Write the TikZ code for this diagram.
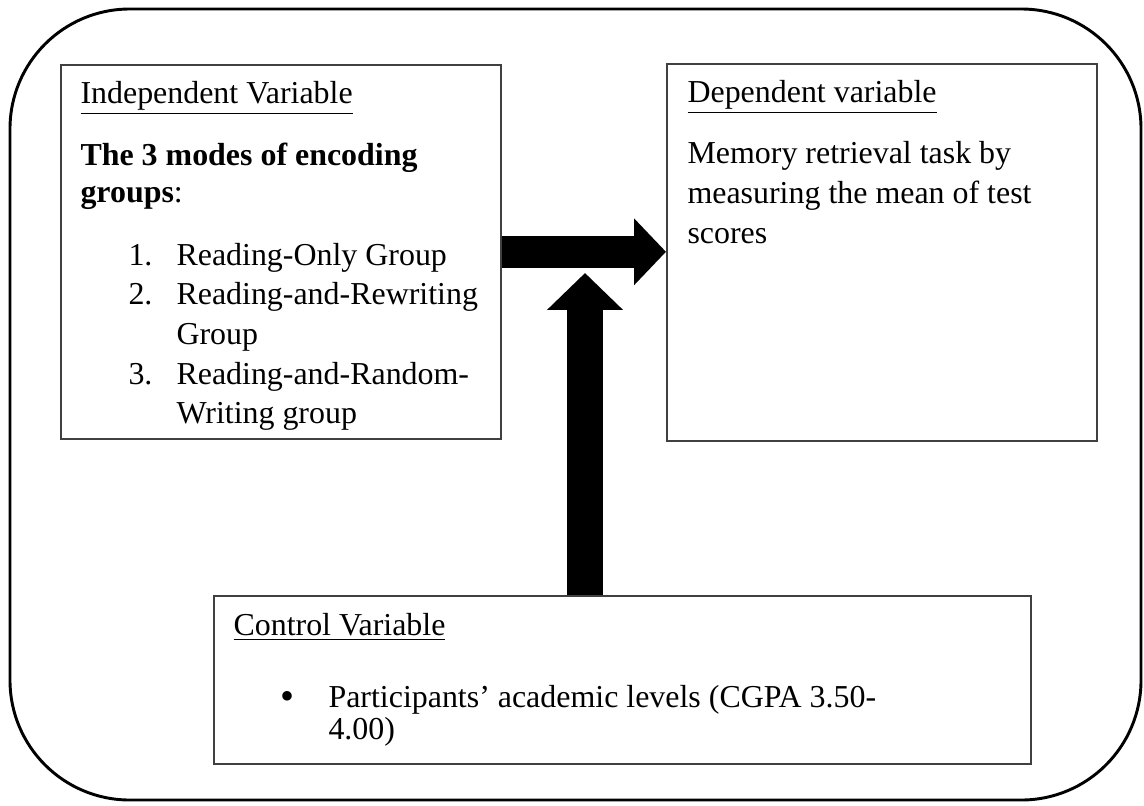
\documentclass[tikz,border=0pt]{standalone}
\usepackage{fontspec}
\setmainfont{Liberation Serif}
\usetikzlibrary{arrows.meta}
\begin{document}
\begin{tikzpicture}[x=0.3759pt,y=-0.3759pt,
  frame/.style={draw=black, line width=1.1pt, rounded corners=45pt},
  varbox/.style={draw=black!75, line width=0.6pt, anchor=north west, inner sep=0pt},
  txt/.style={anchor=base west, inner sep=0pt, font=\fontsize{12pt}{14pt}\selectfont},
  fatH/.style={line width=12pt, -{Triangle[length=12pt,width=24.4pt]}},
  fatV/.style={line width=13.5pt, -{Triangle[length=13.9pt,width=27.8pt]}}]
\useasboundingbox (0,0) rectangle (1144,805);
\draw[frame] (10,9) rectangle (1141,800);
% boxes
\node[varbox, minimum width=440*0.3759pt, minimum height=374*0.3759pt] (iv) at (60,64) {};
\node[varbox, minimum width=430*0.3759pt, minimum height=377*0.3759pt] (dv) at (666,63) {};
\node[varbox, minimum width=817*0.3759pt, minimum height=168*0.3759pt] (ctrl) at (213,595) {};
% independent variable text
\node[txt] (ivt) at (80,103) {\underline{Independent Variable}};
\node[txt] (ivb1) at (80,165) {\textbf{The 3 modes of encoding}};
\node[txt] (ivb2) at (80,202) {\textbf{groups}:};
\node[txt] (n1) at (128,265) {1.};
\node[txt] (i1) at (176,265) {Reading-Only Group};
\node[txt] (n2) at (128,304) {2.};
\node[txt] (i2a) at (176,304) {Reading-and-Rewriting};
\node[txt] (i2b) at (176,344) {Group};
\node[txt] (n3) at (128,384) {3.};
\node[txt] (i3a) at (176,384) {Reading-and-Random-};
\node[txt] (i3b) at (176,423) {Writing group};
% dependent variable text
\node[txt] (dvt) at (687,102) {\underline{Dependent variable}};
\node[txt] (dv1) at (687,163) {Memory retrieval task by};
\node[txt] (dv2) at (687,203) {measuring the mean of test};
\node[txt] (dv3) at (687,243) {scores};
% control variable text
\node[txt] (ct) at (233,635) {\underline{Control Variable}};
\node[txt, anchor=base, font=\fontsize{15pt}{16pt}\selectfont] (bul) at (287,709) {•};
\node[txt] (c1) at (328,707) {Participants’ academic levels (CGPA 3.50-};
\node[txt] (c2) at (328,739) {4.00)};
% arrows
\draw[fatH] (iv.east) -- (iv.east -| dv.west);
\coordinate (vtip) at (585,273);
\draw[fatV] (vtip |- ctrl.north) -- (vtip);
\end{tikzpicture}
\end{document}
